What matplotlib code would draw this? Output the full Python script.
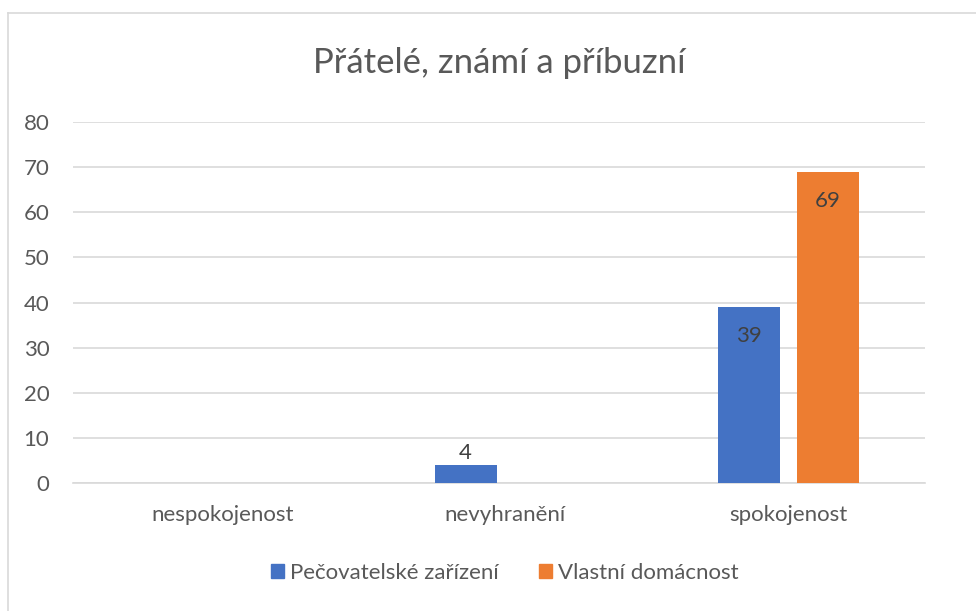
import numpy as np
import matplotlib.pyplot as plt
from matplotlib.lines import Line2D
from matplotlib.patches import Patch

plt.rcParams['font.family'] = ['Lato', 'DejaVu Sans']

categories = ['nespokojenost', 'nevyhranění', 'spokojenost']
pecovatelske = [0, 4, 39]
vlastni = [0, 0, 69]
series_names = ['Pečovatelské zařízení', 'Vlastní domácnost']
colors = ['#4472C4', '#ED7D31']
title = 'Přátelé, známí a příbuzní'

text_col = '#595959'
grid_col = '#D9D9D9'

fig = plt.figure(figsize=(9.76, 6.11), dpi=100)
ax = fig.add_axes([0.0748, 0.2095, 0.8732, 0.5908])

x = np.arange(len(categories))
w = 0.219
off = 0.14
b1 = ax.bar(x - off, pecovatelske, w, color=colors[0], zorder=3)
b2 = ax.bar(x + off, vlastni, w, color=colors[1], zorder=3)

# popisky hodnot (nuly se nezobrazuji)
for bars, vals in ((b1, pecovatelske), (b2, vlastni)):
    for r, v in zip(bars, vals):
        if v == 0:
            continue
        cx = r.get_x() + r.get_width() / 2
        if v < 10:
            ax.text(cx, v + 2.7, str(v), ha='center', va='center',
                    fontsize=16, color='#404040', zorder=4)
        else:
            ax.text(cx, v - 6.5, str(v), ha='center', va='center',
                    fontsize=16, color='#404040', zorder=4)

ax.set_xlim(-0.527, 2.484)
ax.set_ylim(0, 80)
ax.set_yticks(range(0, 81, 10))
ax.set_xticks(x)
ax.set_xticklabels(categories)
ax.yaxis.grid(True, color=grid_col, linewidth=1.2, zorder=0)
ax.tick_params(axis='both', length=0, labelsize=16, colors=text_col)
ax.tick_params(axis='x', pad=16)
ax.tick_params(axis='y', pad=17)
for s in ['top', 'right', 'left']:
    ax.spines[s].set_visible(False)
ax.spines['bottom'].set_color(grid_col)
ax.spines['bottom'].set_linewidth(1.2)

fig.text(0.512, 0.897, title, ha='center', va='center', fontsize=25, color=text_col)

handles = [Patch(color=c) for c in colors]
fig.legend(handles, series_names, loc='center', bbox_to_anchor=(0.517, 0.063),
           ncol=2, frameon=False, fontsize=16, handlelength=0.6, handleheight=0.6,
           handletextpad=0.25, columnspacing=1.8, labelcolor=text_col)

# ramecek grafu
fig.add_artist(Line2D([8/976, 1.0], [1 - 13/611, 1 - 13/611], color='#D9D9D9', lw=1.2))
fig.add_artist(Line2D([8/976, 8/976], [0, 1 - 13/611], color='#D9D9D9', lw=1.2))

fig.savefig('out.png', dpi=100, facecolor='white')
